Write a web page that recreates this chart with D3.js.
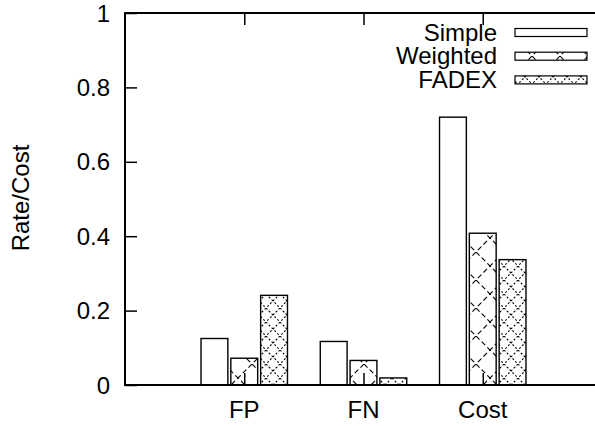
<!DOCTYPE html>
<html>
<head>
<meta charset="utf-8">
<script src="https://cdn.jsdelivr.net/npm/d3@7"></script>
<style>
  body { margin: 0; background: #fff; }
  text { font-family: "Liberation Sans", Arial, sans-serif; fill: #000; }
</style>
</head>
<body>
<div id="chart"></div>
<script>
// data
const categories = ['FP', 'FN', 'Cost']
const series = ['Simple', 'Weighted', 'FADEX']
const simpleVals = [0.125, 0.117, 0.72]
const weightedVals = [0.072, 0.066, 0.408]
const fadexVals = [0.241, 0.019, 0.337]
const yTicks = [0, 0.2, 0.4, 0.6, 0.8, 1]

const values = { Simple: simpleVals, Weighted: weightedVals, FADEX: fadexVals }

const W = 595, H = 426
const fontsize = 24

var svg = d3.select('#chart')
  .append('svg')
  .attr('width', W)
  .attr('height', H)
  .style('font-size', `${fontsize}px`)

// fill patterns, roughly like gnuplot's hatch fills
var defs = svg.append('defs')
function hatch(id, size, dash, width) {
  let p = defs.append('pattern')
    .attr('id', id)
    .attr('patternUnits', 'userSpaceOnUse')
    .attr('width', size)
    .attr('height', size)
  p.append('rect').attr('width', size).attr('height', size).attr('fill', '#fff')
  p.append('path')
    .attr('d', `M0,0L${size},${size}M${size},0L0,${size}`)
    .attr('stroke', '#000')
    .attr('stroke-width', width)
    .attr('stroke-dasharray', dash)
    .attr('fill', 'none')
}
hatch('pWeighted', 28, '5,3', 1.1)
hatch('pFadex', 14, '2,2', 1.1)
const fills = { Simple: '#fff', Weighted: 'url(#pWeighted)', FADEX: 'url(#pFadex)' }

// scales: gnuplot histogram sits clusters at 0,1,2 with x range -1..3
var x = d3.scaleLinear().domain([-1, 3]).range([125, 602])
var unit = x(1) - x(0)
var sub = d3.scaleBand()
  .domain(series)
  .range([-0.375 * unit, 0.375 * unit])
  .paddingInner(0.1)
  .paddingOuter(0.05)
var y = d3.scaleLinear().domain([0, 1]).range([385, 13])

// bars
series.forEach(s => {
  svg.append('g')
    .selectAll('rect')
    .data(values[s])
    .join('rect')
    .attr('x', (d, i) => x(i) + sub(s))
    .attr('y', d => y(d))
    .attr('width', sub.bandwidth())
    .attr('height', d => y(0) - y(d))
    .attr('fill', fills[s])
    .attr('stroke', '#000')
    .attr('stroke-width', 1.4)
})

// y axis, inward ticks
svg.append('g')
  .attr('transform', `translate(${x(-1)},0)`)
  .call(d3.axisRight(y).tickValues(yTicks).tickSize(12).tickFormat(''))
  .call(g => g.select('.domain').remove())
  .selectAll('line').attr('stroke-width', 1.5)

svg.append('g')
  .selectAll('text')
  .data(yTicks)
  .join('text')
  .attr('x', 110)
  .attr('y', d => y(d))
  .attr('dy', '0.36em')
  .attr('text-anchor', 'end')
  .text(d => d3.format('')(d))

// x axis ticks, bottom and top, inward
var xc = d3.scaleLinear().domain([-1, 3]).range([x(-1), x(3)])
svg.append('g')
  .attr('transform', `translate(0,${y(0)})`)
  .call(d3.axisTop(xc).tickValues([0, 1, 2]).tickSize(12).tickFormat(''))
  .call(g => g.select('.domain').remove())
  .selectAll('line').attr('stroke-width', 1.5)
svg.append('g')
  .attr('transform', `translate(0,${y(1)})`)
  .call(d3.axisBottom(xc).tickValues([0, 1, 2]).tickSize(12).tickFormat(''))
  .call(g => g.select('.domain').remove())
  .selectAll('line').attr('stroke-width', 1.5)

svg.append('g')
  .selectAll('text')
  .data(categories)
  .join('text')
  .attr('x', (d, i) => x(i))
  .attr('y', 418)
  .attr('text-anchor', 'middle')
  .text(d => d)

// frame
svg.append('rect')
  .attr('x', x(-1))
  .attr('y', y(1))
  .attr('width', x(3) - x(-1))
  .attr('height', y(0) - y(1))
  .attr('fill', 'none')
  .attr('stroke', '#000')
  .attr('stroke-width', 2)

// y label
svg.append('text')
  .attr('transform', `translate(29,198) rotate(-90)`)
  .attr('text-anchor', 'middle')
  .text('Rate/Cost')

// legend
var legend = svg.append('g')
series.forEach((s, i) => {
  let cy = 32.5 + i * 23.7
  legend.append('text')
    .attr('x', 497)
    .attr('y', cy + 8)
    .attr('text-anchor', 'end')
    .text(s)
  legend.append('rect')
    .attr('x', 515)
    .attr('y', cy - 4)
    .attr('width', 72)
    .attr('height', 8)
    .attr('fill', fills[s])
    .attr('stroke', '#000')
    .attr('stroke-width', 1.2)
})
</script>
</body>
</html>
